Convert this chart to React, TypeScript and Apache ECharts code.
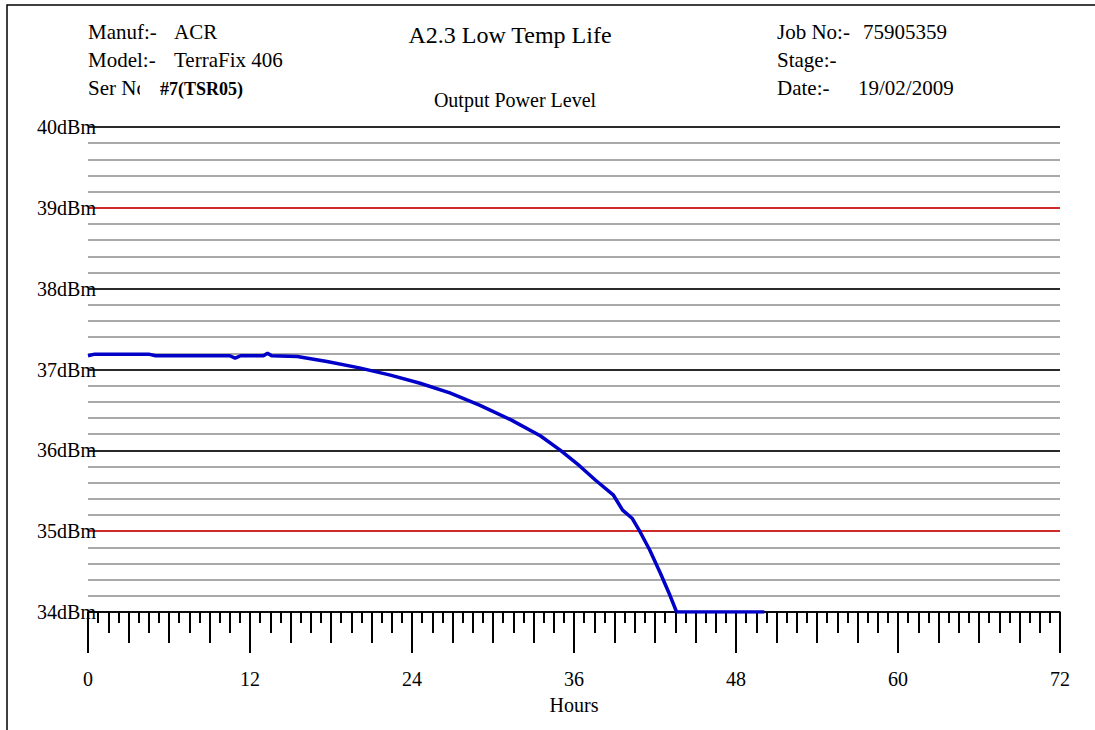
import React, { useEffect, useRef } from "react";
import * as echarts from "echarts";

const hours: number[] = [0, 0.5, 4.5, 5, 10.5, 10.9, 11.3, 13, 13.3, 13.6, 15.5, 17.7, 20.1, 22.4, 24.6, 26.8, 29.0, 31.3, 33.5, 35.0, 36.4, 37.6, 38.9, 39.6, 40.3, 40.9, 41.6, 42.4, 43.1, 43.6, 50.1];
const power: number[] = [37.17, 37.19, 37.19, 37.17, 37.17, 37.14, 37.17, 37.17, 37.2, 37.17, 37.16, 37.1, 37.02, 36.93, 36.83, 36.71, 36.56, 36.38, 36.18, 36.0, 35.81, 35.63, 35.45, 35.26, 35.16, 34.99, 34.77, 34.48, 34.21, 34.0, 34.0];

const xMin = 0;
const xMax = 72;
const xLabelStep = 12;
const yMin = 34;
const yMax = 40;
// major line colours for 34..40 dBm
const majorLineColors = ["#000000", "#dd0000", "#000000", "#000000", "#000000", "#dd0000", "#000000"];

const headerLeft = [
  ["Manuf:-", "ACR"],
  ["Model:-", "TerraFix 406"],
  ["Ser No", "#7(TSR05)"],
];
const headerRight = [
  ["Job No:-", "75905359"],
  ["Stage:-", ""],
  ["Date:-", "19/02/2009"],
];
const title = "A2.3 Low Temp Life";
const subtitle = "Output Power Level";
const xName = "Hours";

const FONT = "'Liberation Serif', 'Times New Roman', serif";

export default function App() {
  const ref = useRef<HTMLDivElement>(null);
  useEffect(() => {
    document.body.style.margin = "0";
    const chart = echarts.init(ref.current!, undefined, { renderer: "svg" });
    const data = hours.map((h, i) => [h, power[i]]);
    const tickAxis = (interval: number, len: number, main: boolean) => ({
      type: "value",
      position: "bottom",
      min: xMin,
      max: xMax,
      interval,
      axisLine: { show: main, lineStyle: { color: "#000", width: 1.5 } },
      axisTick: { show: true, inside: false, length: len, lineStyle: { color: "#000", width: 2 } },
      axisLabel: main
        ? { show: true, margin: 57, color: "#000", fontFamily: FONT, fontSize: 20 }
        : { show: false },
      splitLine: { show: false },
      name: main ? xName : "",
      nameLocation: "middle",
      nameGap: 83,
      nameTextStyle: { color: "#000", fontFamily: FONT, fontSize: 20 },
      z: main ? 5 : 4,
    });
    const rowY = [32, 60, 88];
    const graphics: any[] = [
      {
        type: "rect",
        shape: { x: 7, y: 5, width: 1200, height: 800 },
        style: { fill: "none", stroke: "#000", lineWidth: 1.5 },
        silent: true,
      },
    ];
    headerLeft.forEach((r, i) => {
      graphics.push({ type: "text", x: 88, y: rowY[i], style: { text: r[0], fill: "#000", font: `21px ${FONT}`, textVerticalAlign: "middle" } });
      if (i === 2) {
        graphics.push({ type: "rect", shape: { x: 140, y: rowY[i] - 11, width: 18, height: 22 }, style: { fill: "#fff" }, z: 10 });
        graphics.push({ type: "text", x: 160, y: rowY[i] + 1, style: { text: r[1], fill: "#000", font: `bold 18px ${FONT}`, textVerticalAlign: "middle" }, z: 11 });
      } else {
        graphics.push({ type: "text", x: 174, y: rowY[i], style: { text: r[1], fill: "#000", font: `21px ${FONT}`, textVerticalAlign: "middle" } });
      }
    });
    headerRight.forEach((r, i) => {
      graphics.push({ type: "text", x: 777, y: rowY[i], style: { text: r[0], fill: "#000", font: `21px ${FONT}`, textVerticalAlign: "middle" } });
      if (r[1]) {
        graphics.push({ type: "text", x: i === 2 ? 858 : 863, y: rowY[i], style: { text: r[1], fill: "#000", font: `21px ${FONT}`, textVerticalAlign: "middle" } });
      }
    });
    graphics.push({ type: "text", x: 510, y: 35, style: { text: title, fill: "#000", font: `24px ${FONT}`, textAlign: "center", textVerticalAlign: "middle" } });
    graphics.push({ type: "text", x: 515, y: 100, style: { text: subtitle, fill: "#000", font: `20px ${FONT}`, textAlign: "center", textVerticalAlign: "middle" } });

    chart.setOption({
      animation: false,
      backgroundColor: "#fff",
      grid: { left: 88, right: 35, top: 127, bottom: 118, containLabel: false },
      xAxis: [
        tickAxis(xLabelStep, 41, true),
        tickAxis(3, 31, false),
        tickAxis(1.5, 21, false),
        tickAxis(0.75, 11, false),
      ],
      yAxis: [
        {
          type: "value",
          min: yMin,
          max: yMax,
          interval: 1,
          axisLine: { show: false },
          axisTick: { show: false },
          axisLabel: {
            margin: -8,
            color: "#000",
            fontFamily: FONT,
            fontSize: 20,
            formatter: (v: number) => `${v}dBm`,
            verticalAlign: "middle",
            padding: [0, 0, 4, 0],
          },
          splitLine: { show: true, lineStyle: { color: majorLineColors, width: 1.5 } },
          z: 3,
        },
        {
          type: "value",
          position: "left",
          min: yMin,
          max: yMax,
          interval: 0.2,
          axisLine: { show: false },
          axisTick: { show: false },
          axisLabel: { show: false },
          splitLine: { show: true, lineStyle: { color: "#8c8c8c", width: 1.5 } },
          z: 1,
        },
      ],
      series: [
        {
          type: "line",
          data,
          xAxisIndex: 0,
          yAxisIndex: 0,
          showSymbol: false,
          symbol: "none",
          lineStyle: { color: "#0000c8", width: 3.5 },
          z: 10,
        },
      ],
      graphic: graphics,
    });
    return () => chart.dispose();
  }, []);
  return <div ref={ref} style={{ width: 1095, height: 730 }} />;
}
